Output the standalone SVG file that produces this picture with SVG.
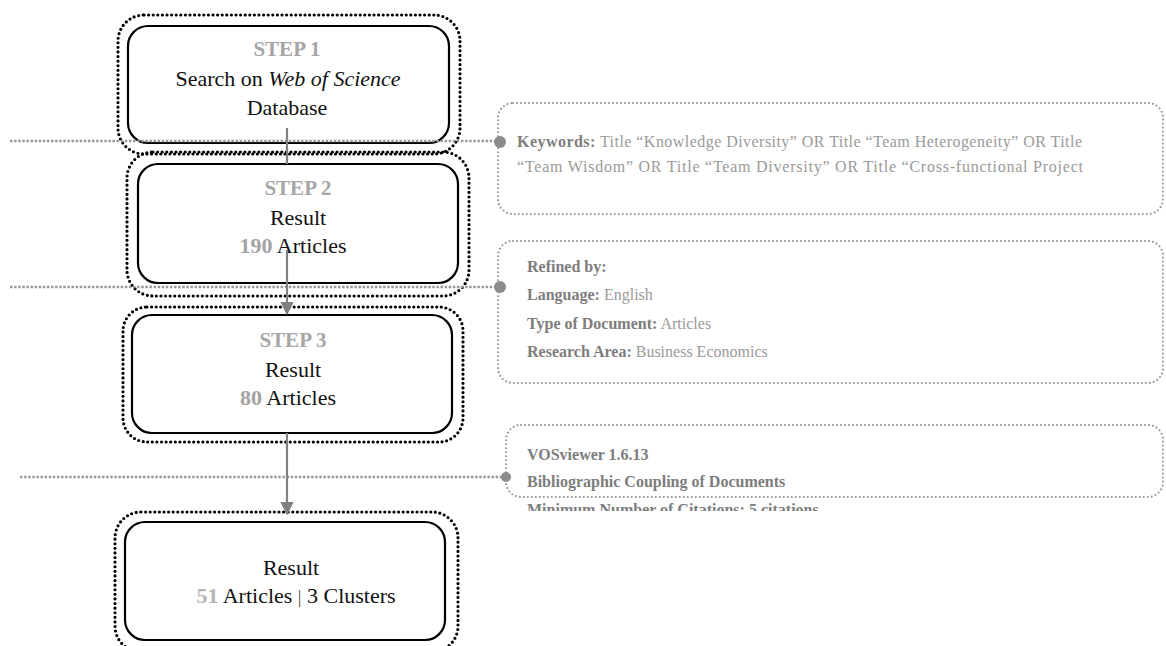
<svg xmlns="http://www.w3.org/2000/svg" width="1166" height="646" viewBox="0 0 1166 646">
<style>
.inner{fill:#fff;stroke:#000;stroke-width:2.2}
.outer{fill:none;stroke:#000;stroke-width:3.2;stroke-dasharray:0 4.6;stroke-linecap:round}
.side{fill:none;stroke:#999;stroke-width:2.2;stroke-dasharray:0 4;stroke-linecap:round}
.hline{fill:none;stroke:#999;stroke-width:2.5;stroke-dasharray:2.5 1.6}
.conn{fill:none;stroke:#808080;stroke-width:2.2}
.t{font-family:"Liberation Serif","Times New Roman",serif;font-size:22px;fill:#111;text-anchor:middle}
.step{font-weight:bold;fill:#a6a6a6;font-size:21px}
.num{font-weight:bold;fill:#a3a3a3}
.r{font-family:"Liberation Serif","Times New Roman",serif;font-size:16px;fill:#9a9a9a}
.b{font-weight:bold;fill:#7d7d7d}
.dot{fill:#8c8c8c}
</style>
<defs>
<marker id="arr" viewBox="0 0 10 10" refX="9" refY="5" markerWidth="6" markerHeight="6" orient="auto" markerUnits="strokeWidth">
<path d="M0,0 L10,5 L0,10 z" fill="#808080"/>
</marker>
<clipPath id="clipC"><rect x="500" y="420" width="666" height="91"/></clipPath>
</defs>

<g id="step1">
<rect class="inner" x="128" y="26" width="321" height="117" rx="20"/>
<rect class="outer" x="118" y="15" width="342" height="139" rx="26"/>
<text class="t step" x="287" y="56">STEP 1</text>
<text class="t" x="288" y="86">Search on <tspan font-style="italic">Web of Science</tspan></text>
<text class="t" x="287" y="115">Database</text>
</g>

<g id="step2">
<rect class="inner" x="138" y="164" width="320" height="119" rx="20"/>
<rect class="outer" x="127" y="152" width="342" height="144" rx="26"/>
<text class="t step" x="298" y="195">STEP 2</text>
<text class="t" x="298" y="225">Result</text>
<text class="t" x="293" y="253"><tspan class="num">190</tspan> Articles</text>
</g>

<g id="step3">
<rect class="inner" x="132" y="315" width="320" height="118" rx="20"/>
<rect class="outer" x="123" y="307" width="340" height="135" rx="24"/>
<text class="t step" x="293" y="347">STEP 3</text>
<text class="t" x="293" y="377">Result</text>
<text class="t" x="288" y="405"><tspan class="num">80</tspan> Articles</text>
</g>

<g id="result">
<rect class="inner" x="125" y="522" width="320" height="118" rx="20"/>
<rect class="outer" x="115" y="512" width="343" height="140" rx="26"/>
<text class="t" x="291" y="575">Result</text>
<text class="t" x="296" y="603"><tspan class="num" style="fill:#b5b5b5">51</tspan> Articles <tspan font-size="18" fill="#444">|</tspan> 3 Clusters</text>
</g>

<g id="keywords">
<rect class="side" x="498" y="103" width="665" height="111" rx="15"/>
<text class="r" x="517" y="147" textLength="565" lengthAdjust="spacing"><tspan class="b">Keywords:</tspan> Title “Knowledge Diversity” OR Title   “Team Heterogeneity” OR Title</text>
<text class="r" x="517" y="172" textLength="566" lengthAdjust="spacing">“Team Wisdom” OR Title “Team Diversity” OR Title “Cross-functional Project</text>
</g>

<g id="refined">
<rect class="side" x="498" y="241" width="665" height="142" rx="15"/>
<text class="r" x="527" y="272"><tspan class="b">Refined by:</tspan></text>
<text class="r" x="527" y="300"><tspan class="b">Language:</tspan> English</text>
<text class="r" x="527" y="329"><tspan class="b">Type of Document:</tspan> Articles</text>
<text class="r" x="527" y="357"><tspan class="b">Research Area:</tspan> Business Economics</text>
</g>

<g id="vosviewer">
<rect class="side" x="506" y="425" width="657" height="72" rx="15"/>
<text class="r b" x="527" y="460">VOSviewer 1.6.13</text>
<text class="r b" x="527" y="487">Bibliographic Coupling of Documents</text>
<g clip-path="url(#clipC)"><text class="r b" x="527" y="515">Minimum Number of Citations: 5 citations</text></g>
</g>

<g id="connectors">
<line class="hline" x1="10" y1="141" x2="500" y2="141"/>
<line class="hline" x1="10" y1="287" x2="500" y2="287"/>
<line class="hline" x1="20" y1="477" x2="506" y2="477"/>
<circle class="dot" cx="500" cy="142" r="6"/>
<circle class="dot" cx="500" cy="287" r="6"/>
<circle class="dot" cx="506" cy="477" r="5"/>
<line class="conn" x1="287" y1="128" x2="287" y2="164"/>
<line class="conn" x1="287" y1="250" x2="287" y2="314" marker-end="url(#arr)"/>
<line class="conn" x1="287" y1="433" x2="287" y2="514" marker-end="url(#arr)"/>
</g>
</svg>
